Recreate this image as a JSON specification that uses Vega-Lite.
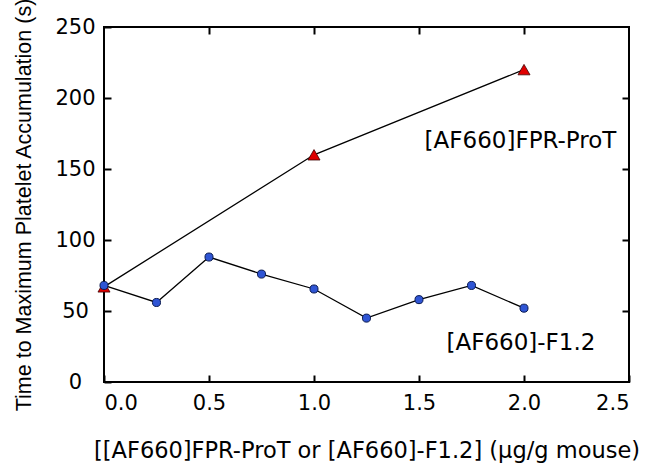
{
  "$schema": "https://vega.github.io/schema/vega-lite/v6.json",
  "width": 525,
  "height": 355,
  "autosize": {"type": "none"},
  "padding": {"left": 104, "top": 27, "right": 22, "bottom": 86},
  "background": "white",
  "config": {
    "view": {"stroke": "black", "strokeWidth": 2},
    "font": "Liberation Sans"
  },
  "datasets": {
    "prot": [
      {"dose": 0.0, "time": 67},
      {"dose": 1.0, "time": 160},
      {"dose": 2.0, "time": 220}
    ],
    "f12": [
      {"dose": 0.0, "time": 68},
      {"dose": 0.25, "time": 56},
      {"dose": 0.5, "time": 88},
      {"dose": 0.75, "time": 76},
      {"dose": 1.0, "time": 65.5},
      {"dose": 1.25, "time": 45},
      {"dose": 1.5, "time": 58},
      {"dose": 1.75, "time": 68},
      {"dose": 2.0, "time": 52}
    ],
    "labels": [
      {"dose": 2.44, "time": 170, "text": "[AF660]FPR-ProT"},
      {"dose": 2.34, "time": 27.5, "text": "[AF660]-F1.2"}
    ]
  },
  "layer": [
    {
      "data": {"name": "prot"},
      "mark": {"type": "line", "color": "black", "strokeWidth": 1.3},
      "encoding": {
        "x": {
          "field": "dose", "type": "quantitative",
          "scale": {"domain": [0, 2.5], "nice": false, "zero": false},
          "axis": {
            "title": "[[AF660]FPR-ProT or [AF660]-F1.2] (µg/g mouse)",
            "titleFont": "DejaVu Sans", "titleFontSize": 22.5, "titleFontWeight": "normal",
            "titleColor": "black", "titlePadding": 26,
            "values": [0, 0.5, 1, 1.5, 2, 2.5],
            "format": ".1f",
            "labelFont": "DejaVu Sans", "labelFontSize": 21, "labelColor": "black",
            "labelPadding": 17,
            "tickSize": -7, "tickColor": "black", "tickWidth": 2,
            "domain": false, "grid": false
          }
        },
        "y": {
          "field": "time", "type": "quantitative",
          "scale": {"domain": [0, 250], "nice": false},
          "axis": {
            "title": "Time to Maximum Platelet Accumulation (s)",
            "titleFont": "Liberation Sans", "titleFontSize": 21.5, "titleFontWeight": "normal",
            "titleColor": "black", "titlePadding": 19,
            "values": [0, 50, 100, 150, 200, 250],
            "labelFont": "DejaVu Sans", "labelFontSize": 21, "labelColor": "black",
            "labelAlign": "center", "labelPadding": 36, "labelBaseline": "middle",
            "tickSize": -7, "tickColor": "black", "tickWidth": 2,
            "domain": false, "grid": false
          }
        }
      }
    },
    {
      "data": {"name": "prot"},
      "mark": {"type": "point", "shape": "triangle-up", "filled": true, "fill": "#e00000", "stroke": "#400000", "strokeWidth": 0.8, "size": 145, "opacity": 1},
      "encoding": {
        "x": {"field": "dose", "type": "quantitative", "axis": null},
        "y": {"field": "time", "type": "quantitative", "axis": null}
      }
    },
    {
      "data": {"name": "f12"},
      "mark": {"type": "line", "color": "black", "strokeWidth": 1.3},
      "encoding": {
        "x": {"field": "dose", "type": "quantitative", "axis": null},
        "y": {"field": "time", "type": "quantitative", "axis": null}
      }
    },
    {
      "data": {"name": "f12"},
      "mark": {"type": "point", "shape": "circle", "filled": true, "fill": "#2f55d4", "stroke": "#0a1a50", "strokeWidth": 1, "size": 65, "opacity": 1},
      "encoding": {
        "x": {"field": "dose", "type": "quantitative", "axis": null},
        "y": {"field": "time", "type": "quantitative", "axis": null}
      }
    },
    {
      "data": {"name": "labels"},
      "mark": {"type": "text", "align": "right", "baseline": "middle", "font": "DejaVu Sans", "fontSize": 23, "color": "black"},
      "encoding": {
        "x": {"field": "dose", "type": "quantitative", "axis": null},
        "y": {"field": "time", "type": "quantitative", "axis": null},
        "text": {"field": "text"}
      }
    },
    {
      "data": {"name": "prot"},
      "mark": {"type": "point", "opacity": 0},
      "encoding": {
        "x": {"field": "dose", "type": "quantitative", "axis": {"orient": "top", "values": [0.5, 1, 1.5, 2], "labels": false, "title": null, "tickSize": -7, "tickColor": "black", "tickWidth": 2, "domain": false, "grid": false}},
        "y": {"field": "time", "type": "quantitative", "axis": {"orient": "right", "values": [50, 100, 150, 200], "labels": false, "title": null, "tickSize": -7, "tickColor": "black", "tickWidth": 2, "domain": false, "grid": false}}
      }
    }
  ],
  "resolve": {"axis": {"x": "independent", "y": "independent"}}
}
